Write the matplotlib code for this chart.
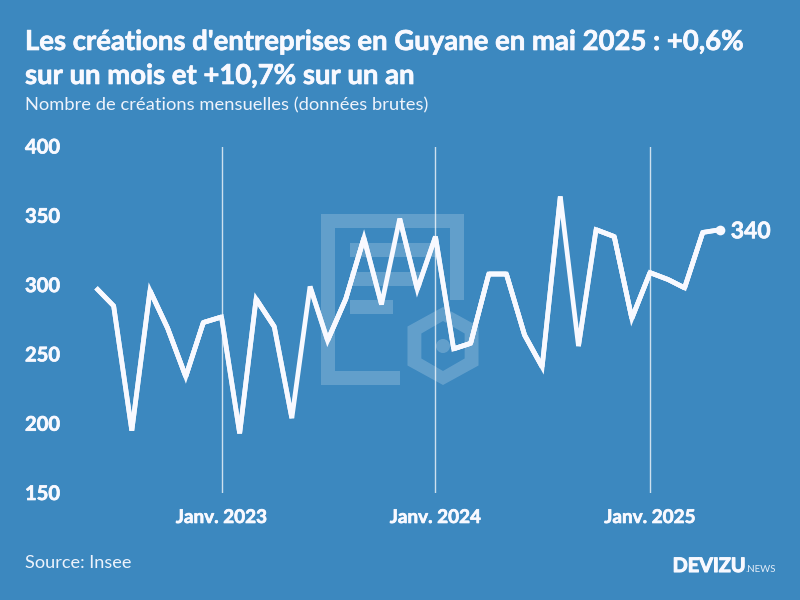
import matplotlib
matplotlib.use("Agg")
import matplotlib.pyplot as plt
import matplotlib.dates as mdates
import matplotlib.patheffects as pe
from matplotlib.patches import Rectangle, Circle, PathPatch
from matplotlib.path import Path
from matplotlib.transforms import ScaledTranslation
import numpy as np
from datetime import date

title_lines = ["Les créations d'entreprises en Guyane en mai 2025 : +0,6%", "sur un mois et +10,7% sur un an"]
subtitle = "Nombre de créations mensuelles (données brutes)"
source = "Source: Insee"
months = [date(2022 + (5 + i) // 12, (5 + i) % 12 + 1, 1) for i in range(36)]
values = [298, 285, 195, 296, 269, 234, 273, 277, 193, 290, 270, 204,
          299, 260, 290, 334, 286, 348, 297, 335, 254, 258, 308, 308,
          264, 241, 364, 256, 340, 335, 276, 309, 304, 298, 338, 340]
year_ticks = [date(2023, 1, 1), date(2024, 1, 1), date(2025, 1, 1)]
year_labels = ["Janv. 2023", "Janv. 2024", "Janv. 2025"]
y_ticks = [150, 200, 250, 300, 350, 400]

BG = "#3c88bf"
WHITE = "#f8f9ff"
plt.rcParams["font.family"] = ["Lato", "DejaVu Sans"]
heavy = [pe.withStroke(linewidth=0.5, foreground=WHITE)]

fig = plt.figure(figsize=(8, 6), dpi=100, facecolor=BG)

# Watermark logo, in pixel coordinates
bg = fig.add_axes([0, 0, 1, 1], zorder=0)
bg.set_xlim(0, 800); bg.set_ylim(600, 0); bg.axis("off")
mark = dict(facecolor="white", alpha=0.2, edgecolor="none")
for x0, y0, w, h in [(321, 214, 143, 14), (321, 228, 14, 157), (335, 371, 65, 14),
                     (450, 228, 14, 72), (350, 243, 87, 14), (350, 272, 72, 14),
                     (350, 300, 43, 14)]:
    bg.add_patch(Rectangle((x0, y0), w, h, **mark))
cx, cy = 443, 346
ang = np.deg2rad(np.arange(0, 360, 60) + 90)
ang2 = ang[::-1]
outer = np.c_[cx + 41 * np.cos(ang), cy - 39 * np.sin(ang)]
inner = np.c_[cx + 25 * np.cos(ang2), cy - 25 * np.sin(ang2)]
verts = np.r_[outer, outer[:1], inner, inner[:1]]
codes = [Path.MOVETO] + [Path.LINETO] * 5 + [Path.CLOSEPOLY] + [Path.MOVETO] + [Path.LINETO] * 5 + [Path.CLOSEPOLY]
bg.add_patch(PathPatch(Path(verts, codes), **mark))
bg.add_patch(Circle((cx, cy), 7, **mark))

# Chart axes
L, R, T, B = 25, 775, 146.5, 493
ax = fig.add_axes([L / 800, 1 - B / 600, (R - L) / 800, (B - T) / 600], zorder=1)
ax.patch.set_alpha(0)
d23, d25 = mdates.date2num(year_ticks[0]), mdates.date2num(year_ticks[2])
px_per_day = (650 - 221.5) / (d25 - d23)
ax.set_xlim(d23 - (221.5 - L) / px_per_day, d23 + (R - 221.5) / px_per_day)
ax.set_ylim(150, 400)
for s in ax.spines.values():
    s.set_visible(False)
for x in year_ticks:
    ax.axvline(mdates.date2num(x), color="white", lw=1, alpha=0.75, zorder=1)

LW = 3.4
xnum = mdates.date2num(months)
ax.plot(xnum, values, color=WHITE, lw=LW, solid_joinstyle="bevel", solid_capstyle="butt", zorder=3)
# SVG-like miter limit: only open angles keep their pointed joint
pts = ax.transData.transform(np.c_[xnum, values])
for i in range(1, len(values) - 1):
    a, b = pts[i - 1] - pts[i], pts[i + 1] - pts[i]
    angle = np.degrees(np.arccos(np.dot(a, b) / (np.linalg.norm(a) * np.linalg.norm(b))))
    if angle >= 29:
        ax.plot(xnum[i - 1:i + 2], values[i - 1:i + 2], color=WHITE, lw=LW,
                solid_joinstyle="miter", solid_capstyle="butt", zorder=3)
ax.plot(xnum[-1:], values[-1:], "o", color=WHITE, ms=7, mew=0, zorder=4)
ax.annotate(str(values[-1]), (xnum[-1], values[-1]), xytext=(7.5, -1.5), textcoords="offset points",
            color=WHITE, fontsize=16.5, fontweight="bold", va="center", ha="left", zorder=4,
            path_effects=heavy)

ax.set_xticks(mdates.date2num(year_ticks), year_labels, color=WHITE, fontsize=13.6, fontweight="bold")
ax.tick_params(axis="x", length=0, pad=11.5)
ax.set_yticks(y_ticks, [str(v) for v in y_ticks], color=WHITE, fontsize=14.5, fontweight="bold")
ax.tick_params(axis="y", length=0, pad=0, direction="in")
up = ScaledTranslation(0, 1 / 100, fig.dpi_scale_trans)
for lab in ax.get_yticklabels():
    lab.set_ha("left")
    lab.set_transform(lab.get_transform() + up)
    lab.set_path_effects(heavy)
for lab in ax.get_xticklabels():
    lab.set_path_effects(heavy)

for y_px, line in zip((42, 76), title_lines):
    fig.text(25 / 800, 1 - y_px / 600, line, color=WHITE, fontsize=19.8, fontweight="bold",
             va="center", ha="left", path_effects=heavy)
fig.text(25 / 800, 1 - 105.5 / 600, subtitle, color=WHITE, fontsize=13.2, va="center", ha="left", alpha=0.95)
fig.text(25 / 800, 1 - 563.5 / 600, source, color=WHITE, fontsize=13.1, va="center", ha="left", alpha=0.95)
fig.text(745.5 / 800, 1 - 566 / 600, "DEVIZU", color=WHITE, fontsize=14.3, fontweight="bold", va="center", ha="right",
         path_effects=[pe.withStroke(linewidth=0.8, foreground=WHITE)])
fig.text(775.5 / 800, 1 - 570 / 600, ".NEWS", color=WHITE, fontsize=7, va="center", ha="right", alpha=0.9)

fig.savefig("out.png", dpi=100, facecolor=BG)
